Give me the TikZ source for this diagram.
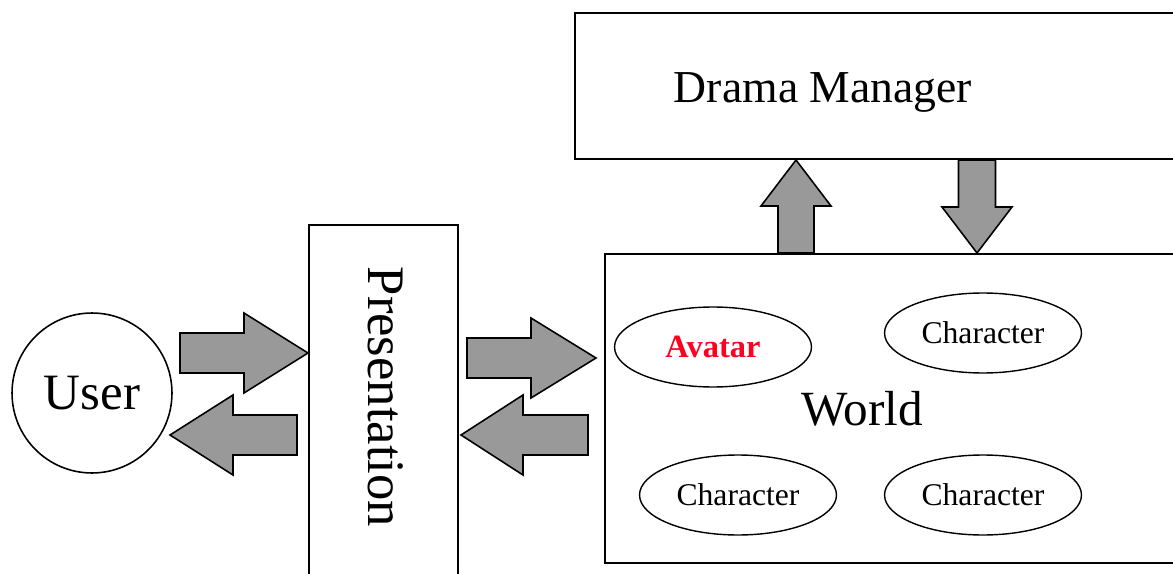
\documentclass[tikz,border=0pt]{standalone}
\usepackage{fontspec}
\setmainfont{Liberation Serif}
\usetikzlibrary{shapes,positioning,calc}

\definecolor{arrowgray}{RGB}{153,153,153}
\definecolor{avatarred}{RGB}{255,0,32}

\tikzset{
  box/.style={draw=black,line width=1.1pt,fill=none,inner sep=0pt},
  role/.style={draw=black,line width=0.8pt,ellipse,minimum width=3.94cm,
               minimum height=1.6cm,inner sep=0pt,font=\fontsize{18}{22}\selectfont},
  fatarrow/.style={draw=black,line width=0.9pt,fill=arrowgray,line join=miter},
}

% block arrow from #1 to #2: shaft half width #3, head half width #4, head length #5
\newcommand{\blockarrow}[5]{%
  \coordinate (hb) at ($(#2)!#5!(#1)$);
  \draw[fatarrow] ($(#1)!#3!90:(#2)$) -- ($(hb)!#3!90:(#2)$) -- ($(hb)!#4!90:(#2)$)
     -- (#2) -- ($(hb)!#4!-90:(#2)$) -- ($(hb)!#3!-90:(#2)$) -- ($(#1)!#3!-90:(#2)$) -- cycle;
}

\begin{document}
\begin{tikzpicture}[x=0.02cm,y=-0.02cm]
\useasboundingbox (0,0) rectangle (1173,574);

% boxes
\node[box,anchor=north west,minimum width=12.4cm,minimum height=2.92cm] (drama) at (574,12) {};
\node[anchor=base,font=\fontsize{26}{30}\selectfont] (dramalabel) at (823,103) {Drama Manager};

\node[box,anchor=north west,minimum width=2.98cm,minimum height=7.6cm] (pres) at (308,224) {};
\node[rotate=-90,anchor=base,font=\fontsize{30}{36}\selectfont] (preslabel) at (368,397) {Presentation};

\node[box,anchor=north west,minimum width=11.9cm,minimum height=6.18cm] (world) at (604,253) {};
\node[anchor=base,font=\fontsize{28}{34}\selectfont] (worldlabel) at (862,425) {World};

\node[draw=black,line width=0.9pt,circle,minimum size=3.2cm,inner sep=0pt,
      font=\fontsize{29}{35}\selectfont] (user) at (92,393) {User};

% inhabitants of the world
\node[role,text=avatarred,font=\fontsize{18.5}{22}\selectfont\bfseries] (avatar) at (713,347) {Avatar};
\node[role] (char1) at (983,333) {Character};
\node[role] (char2) at (738,495) {Character};
\node[role] (char3) at (983,495) {Character};

% arrow ends
\coordinate (u2p-s) at (180,353);
\coordinate (u2p-e) at (pres.west |- u2p-s);
\coordinate (p2u-s) at (297,435);
\coordinate (p2u-e) at (170,435);
\coordinate (p2w-s) at (467,358);
\coordinate (p2w-e) at (596,358);
\coordinate (w2p-s) at (588,435);
\coordinate (w2p-e) at (461,435);
\coordinate (w2d-s) at (796,253);
\coordinate (w2d-e) at (796,160);
\coordinate (d2w-s) at (977,160);
\coordinate (d2w-e) at (977,253);

\blockarrow{u2p-s}{u2p-e}{0.4cm}{0.8cm}{1.28cm}
\blockarrow{p2u-s}{p2u-e}{0.4cm}{0.8cm}{1.26cm}
\blockarrow{p2w-s}{p2w-e}{0.4cm}{0.8cm}{1.3cm}
\blockarrow{w2p-s}{w2p-e}{0.4cm}{0.8cm}{1.24cm}
\blockarrow{w2d-s}{w2d-e}{0.36cm}{0.7cm}{0.92cm}
\blockarrow{d2w-s}{d2w-e}{0.37cm}{0.7cm}{0.92cm}
\end{tikzpicture}
\end{document}
